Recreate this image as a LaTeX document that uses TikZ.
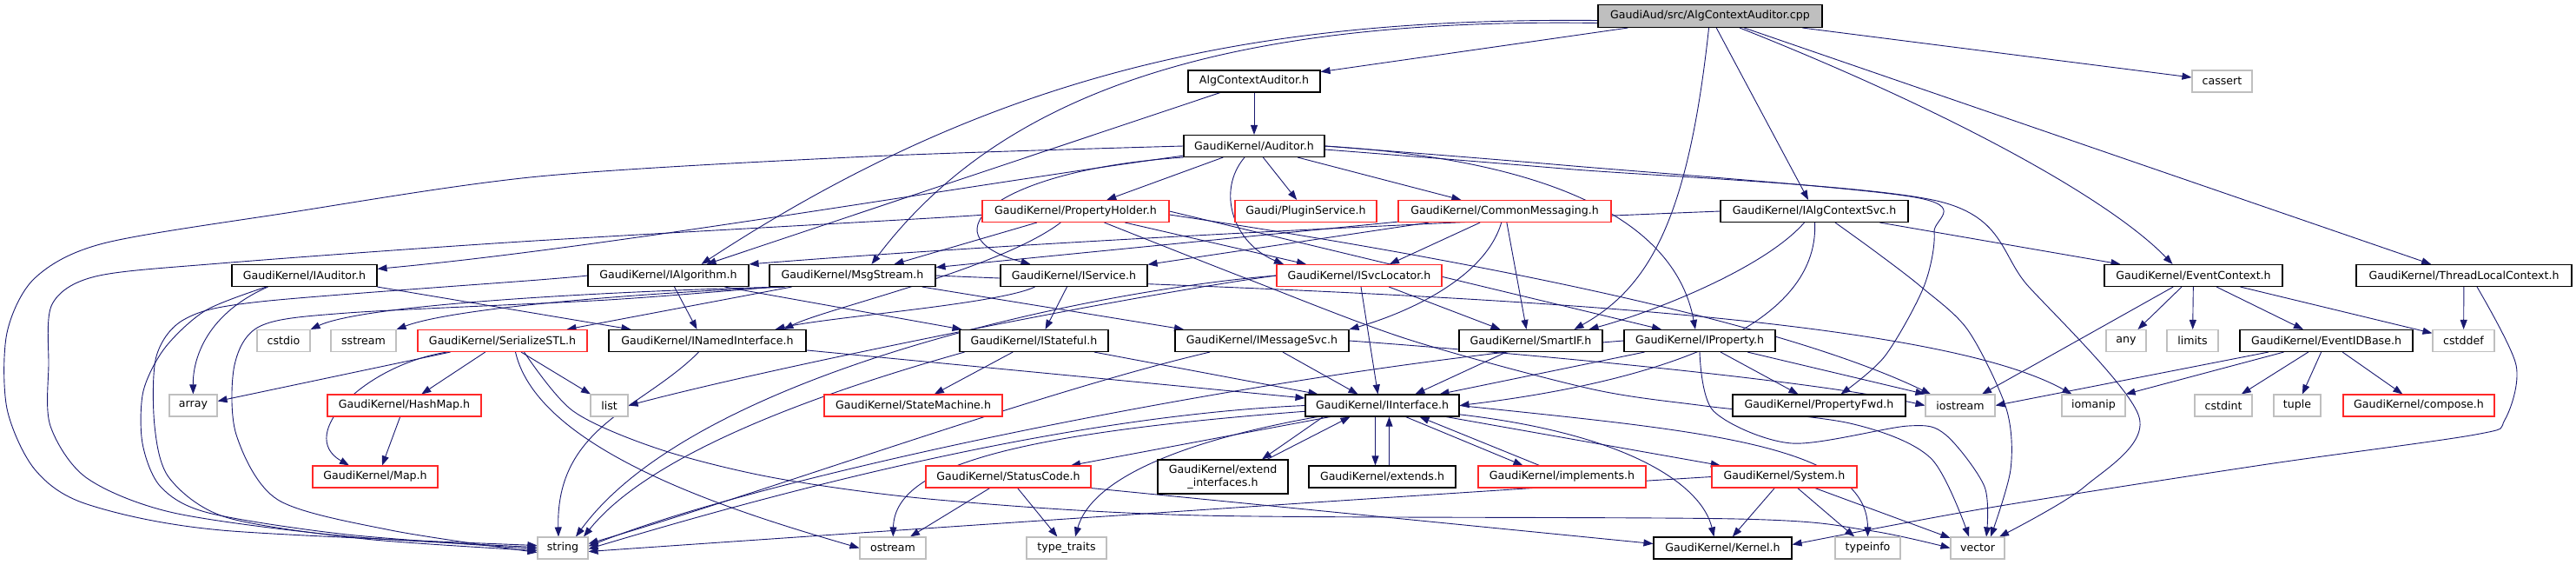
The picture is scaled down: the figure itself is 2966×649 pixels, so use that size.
\documentclass[tikz,border=0pt]{standalone}
\usepackage{fontspec}
\setmainfont{DejaVu Sans}
\usetikzlibrary{arrows.meta,backgrounds}
\definecolor{edgecol}{RGB}{25,25,112}
\definecolor{redbox}{RGB}{255,40,40}
\definecolor{graybox}{RGB}{191,191,191}
\definecolor{topfill}{RGB}{191,191,191}
\tikzset{
  nd/.style={draw=black, fill=white, line width=1.1pt, minimum height=25pt, inner sep=0pt,
             font=\fontsize{12.6}{14.5}\selectfont, text=black},
  rd/.style={nd, draw=redbox},
  gy/.style={nd, draw=graybox},
  ed/.style={draw=edgecol, line width=0.9pt, -{Triangle[length=11pt,width=8pt]}},
}
\begin{document}
\begin{tikzpicture}[x=1pt,y=-1pt]
\useasboundingbox (0,0) rectangle (2966,649);
% ---------- nodes ----------
\node[nd, fill=topfill, minimum width=258pt, minimum height=26pt] (cpp) at (1969,18.5) {GaudiAud/src/AlgContextAuditor.cpp};
\node[nd, minimum width=152pt] (ach) at (1444,93.5) {AlgContextAuditor.h};
\node[gy, minimum width=69pt] (cassert) at (2558.5,93.5) {cassert};
\node[nd, minimum width=162pt] (auditor) at (1444,168) {GaudiKernel/Auditor.h};
\node[rd, minimum width=215pt] (propholder) at (1238.5,243) {GaudiKernel/PropertyHolder.h};
\node[rd, minimum width=163pt] (plugin) at (1503.5,243) {Gaudi/PluginService.h};
\node[rd, minimum width=245pt] (commsg) at (1732.5,243) {GaudiKernel/CommonMessaging.h};
\node[nd, minimum width=216pt] (ialgctx) at (2089,243) {GaudiKernel/IAlgContextSvc.h};
\node[nd, minimum width=167pt] (iauditor) at (350.5,317) {GaudiKernel/IAuditor.h};
\node[nd, minimum width=185pt] (ialgorithm) at (769.5,317) {GaudiKernel/IAlgorithm.h};
\node[nd, minimum width=191pt] (msgstream) at (981.5,317) {GaudiKernel/MsgStream.h};
\node[nd, minimum width=169pt] (iservice) at (1236.5,317) {GaudiKernel/IService.h};
\node[rd, minimum width=190pt] (isvcloc) at (1565,317) {GaudiKernel/ISvcLocator.h};
\node[nd, minimum width=205pt] (evctx) at (2525.5,317) {GaudiKernel/EventContext.h};
\node[nd, minimum width=248pt] (tlctx) at (2837,317) {GaudiKernel/ThreadLocalContext.h};
\node[gy, minimum width=61pt] (cstdio) at (326.5,392) {cstdio};
\node[gy, minimum width=75pt] (sstream) at (418.5,392) {sstream};
\node[rd, minimum width=195pt] (serialize) at (578.5,392) {GaudiKernel/SerializeSTL.h};
\node[nd, minimum width=227pt] (inamed) at (814.5,392) {GaudiKernel/INamedInterface.h};
\node[nd, minimum width=171pt] (istateful) at (1190.5,392) {GaudiKernel/IStateful.h};
\node[nd, minimum width=200pt] (imsgsvc) at (1453,392) {GaudiKernel/IMessageSvc.h};
\node[nd, minimum width=165pt] (smartif) at (1762.5,392) {GaudiKernel/SmartIF.h};
\node[nd, minimum width=174pt] (iproperty) at (1957,392) {GaudiKernel/IProperty.h};
\node[gy, minimum width=46pt] (any) at (2448,392) {any};
\node[gy, minimum width=59pt] (limits) at (2524.5,392) {limits};
\node[nd, minimum width=199pt] (evidbase) at (2678.5,392) {GaudiKernel/EventIDBase.h};
\node[gy, minimum width=71pt] (cstddef) at (2836.5,392) {cstddef};
\node[gy, minimum width=55pt] (array) at (222.5,466.5) {array};
\node[rd, minimum width=177pt] (hashmap) at (465.5,466.5) {GaudiKernel/HashMap.h};
\node[gy, minimum width=43pt] (list) at (701.5,466.5) {list};
\node[rd, minimum width=205pt] (statemachine) at (1051.5,466.5) {GaudiKernel/StateMachine.h};
\node[nd, minimum width=177pt] (iinterface) at (1591.5,466.5) {GaudiKernel/IInterface.h};
\node[nd, minimum width=199pt] (propfwd) at (2094.5,466.5) {GaudiKernel/PropertyFwd.h};
\node[gy, minimum width=80pt] (iostream) at (2257,466.5) {iostream};
\node[gy, minimum width=73pt] (iomanip) at (2410.5,466.5) {iomanip};
\node[gy, minimum width=66pt] (cstdint) at (2560,466.5) {cstdint};
\node[gy, minimum width=54pt] (tuple) at (2645,466.5) {tuple};
\node[rd, minimum width=174pt] (compose) at (2785,466.5) {GaudiKernel/compose.h};
\node[rd, minimum width=144pt] (map) at (432,548.5) {GaudiKernel/Map.h};
\node[rd, minimum width=190pt] (statuscode) at (1161,548.5) {GaudiKernel/StatusCode.h};
\node[nd, minimum width=150pt, minimum height=39pt, align=center] (extif) at (1408,548.5) {GaudiKernel/extend\\\_interfaces.h};
\node[nd, minimum width=169pt] (extends) at (1591.5,548.5) {GaudiKernel/extends.h};
\node[rd, minimum width=193pt] (implements) at (1798.5,548.5) {GaudiKernel/implements.h};
\node[rd, minimum width=167pt] (system) at (2054.5,548.5) {GaudiKernel/System.h};
\node[gy, minimum width=58pt] (string) at (648,630.5) {string};
\node[gy, minimum width=76pt] (ostream) at (1028,630.5) {ostream};
\node[gy, minimum width=92pt] (typetraits) at (1228,630.5) {type\_traits};
\node[nd, minimum width=159pt] (kernel) at (1983.5,630.5) {GaudiKernel/Kernel.h};
\node[gy, minimum width=75pt] (typeinfo) at (2150.5,630.5) {typeinfo};
\node[gy, minimum width=62pt] (vector) at (2277,630.5) {vector};
% ---------- edges ----------
\begin{scope}[on background layer]
% cpp
\draw[ed] (cpp) -- (ach);
\draw[ed] (cpp) -- (cassert);
\draw[ed] (cpp) -- (ialgctx);
\draw[ed] (cpp) .. controls (2250,130) and (2430,230) .. ([xshift=-24pt]evctx.north);
\draw[ed] (cpp) -- (tlctx);
\draw[ed] ([yshift=-5pt]cpp.west) .. controls (1450,20) and (1150,80) .. ([xshift=38pt]ialgorithm.north);
\draw[ed] ([yshift=-8pt]cpp.west) .. controls (1400,20) and (1150,110) .. ([xshift=22pt]msgstream.north);
\draw[ed] (cpp) .. controls (1944,250) and (1900,330) .. ([xshift=50pt]smartif.north);
% AlgContextAuditor.h
\draw[ed] (ach) -- (auditor);
\draw[ed] (ach) -- ([xshift=44pt]ialgorithm.north);
% Auditor.h
\draw[ed] plot[smooth] coordinates {(auditor.west) (1000,180) (620,203) (330,245) (119,280) (40,320) (8,383) (8,470) (40,540) (100,580) (255,610) ([yshift=3pt]string.west)};
\draw[ed] (auditor) .. controls (1100,215) and (700,285) .. (iauditor);
\draw[ed] (auditor.south west) .. controls (1150,195) and (1060,270) .. ([xshift=-50pt]iservice.north);
\draw[ed] (auditor) -- (propholder);
\draw[ed] (auditor) -- (plugin);
\draw[ed] (auditor) .. controls (1400,220) and (1420,280) .. ([xshift=-87pt]isvcloc.north);
\draw[ed] (auditor) -- (commsg);
\draw[ed] (auditor.east) .. controls (1800,185) and (1930,260) .. ([xshift=-5pt]iproperty.north);
\draw[ed] plot[smooth] coordinates {(auditor.east) (1800,190) (2205,227) (2227,267) (2215,330) (2170,410) ([xshift=25pt]propfwd.north)};
\draw[ed] plot[smooth] coordinates {([yshift=-4pt]auditor.east) (1800,194) (2234,232) (2336,330) (2463,480) (2400,560) ([xshift=25pt]vector.north)};
% PropertyHolder.h
\draw[ed] plot[smooth] coordinates {(propholder.west) (1120,248) (600,278) (253,303) (110,318) (60,350) (56,420) (58,490) (100,550) (200,590) (400,617) ([yshift=1pt]string.west)};
\draw[ed] (propholder) -- ([xshift=48pt]msgstream.north);
\draw[ed] (propholder) .. controls (1150,310) and (950,355) .. ([xshift=88pt]inamed.north);
\draw[ed] (propholder) -- ([xshift=-61pt]isvcloc.north);
\draw[ed] (propholder.east) -- ([xshift=-44pt]iproperty.north);
\draw[ed] ([yshift=-4pt]propholder.east) .. controls (1700,300) and (2050,370) .. ([xshift=-34pt]iostream.north);
\draw[ed] plot[smooth] coordinates {([xshift=33pt]propholder.south) (1434,320) (1620,390) (1830,447) (1963,467) (2130,487) (2223,527) ([xshift=-10pt]vector.north)};
% CommonMessaging.h
\draw[ed] (commsg) -- (msgstream);
\draw[ed] (commsg) -- (iservice);
\draw[ed] (commsg) -- ([xshift=35pt]isvcloc.north);
\draw[ed] (commsg) .. controls (1710,320) and (1620,360) .. (imsgsvc.north east);
\draw[ed] (commsg) -- ([xshift=-5pt]smartif.north);
% IAlgContextSvc.h
\draw[ed] (ialgctx.west) .. controls (1500,262) and (1100,285) .. (ialgorithm.north east);
\draw[ed] (ialgctx) -- ([xshift=-84pt]evctx.north);
\draw[ed] (ialgctx) .. controls (2030,310) and (1900,360) .. ([xshift=67pt]smartif.north);
\draw[ed] (ialgctx) .. controls (2095,380) and (1900,440) .. (iinterface.east);
\draw[ed] plot[smooth] coordinates {([xshift=24pt]ialgctx.south) (2160,290) (2212,330) (2266,380) (2310,470) (2315,540) ([xshift=15pt]vector.north)};
% EventContext.h
\draw[ed] (evctx) -- ([xshift=25pt]iostream.north);
\draw[ed] (evctx) -- (any);
\draw[ed] (evctx) -- (limits);
\draw[ed] (evctx) -- (evidbase);
\draw[ed] (evctx) -- (cstddef);
% ThreadLocalContext.h
\draw[ed] (tlctx) -- (cstddef);
\draw[ed] plot[smooth] coordinates {([xshift=15pt]tlctx.south) (2897,420) (2884,483) (2850,500) (2604,535) (2285,585) ([yshift=4pt]kernel.east)};
% IAuditor.h
\draw[ed] (iauditor.south east) -- ([xshift=-88pt]inamed.north);
\draw[ed] ([xshift=-42pt]iauditor.south) .. controls (240,360) and (222,410) .. (array);
\draw[ed] plot[smooth] coordinates {([xshift=-44pt]iauditor.south) (237,357) (190,400) (165,450) (164,510) (185,560) (240,590) (400,615) ([yshift=-1pt]string.west)};
% IAlgorithm.h
\draw[ed] ([xshift=7pt]ialgorithm.south) -- ([xshift=-12pt]inamed.north);
\draw[ed] ([xshift=65pt]ialgorithm.south) -- ([xshift=-83pt]istateful.north);
\draw[ed] plot[smooth] coordinates {(ialgorithm.west) (620,322) (300,347) (213,367) (180,410) (178,490) (195,550) (260,595) (420,620) ([yshift=-3pt]string.west)};
% MsgStream.h
\draw[ed] ([xshift=-80pt]msgstream.south) .. controls (700,335) and (420,350) .. (cstdio.north east);
\draw[ed] ([xshift=-78pt]msgstream.south) .. controls (720,338) and (520,355) .. (sstream.north east);
\draw[ed] ([xshift=-70pt]msgstream.south) -- ([xshift=74pt]serialize.north);
\draw[ed] plot[smooth] coordinates {([xshift=-90pt]msgstream.south) (700,345) (400,360) (300,375) (270,420) (272,500) (320,575) (450,610) ([yshift=-5pt]string.west)};
\draw[ed] (msgstream) -- ([xshift=-90pt]imsgsvc.north);
\draw[ed] (msgstream.east) .. controls (1500,335) and (2200,350) .. ([xshift=-25pt]iomanip.north);
% INamedInterface.h
\draw[ed] ([xshift=-10pt]inamed.south) .. controls (740,470) and (640,490) .. ([xshift=-5pt]string.north);
\draw[ed] (inamed) -- (iinterface);
% IService.h
\draw[ed] ([xshift=-45pt]iservice.south) .. controls (1150,350) and (950,365) .. ([xshift=78pt]inamed.north);
\draw[ed] ([xshift=-8pt]iservice.south) -- ([xshift=13pt]istateful.north);
% ISvcLocator.h
\draw[ed] ([xshift=2pt]isvcloc.south) -- ([xshift=-5pt]iinterface.north);
\draw[ed] (isvcloc) -- ([xshift=-35pt]smartif.north);
\draw[ed] (isvcloc.west) .. controls (1300,340) and (900,420) .. (list.east);
\draw[ed] (isvcloc.west) .. controls (1250,335) and (800,430) .. ([xshift=15pt]string.north);
% IStateful.h
\draw[ed] (istateful) -- ([xshift=-74pt]iinterface.north);
\draw[ed] (istateful) -- (statemachine);
\draw[ed] ([xshift=-80pt]istateful.south) .. controls (950,450) and (750,520) .. ([xshift=24pt]string.north);
% IMessageSvc.h
\draw[ed] ([xshift=24pt]imsgsvc.south) -- ([xshift=-28pt]iinterface.north);
\draw[ed] ([xshift=-60pt]imsgsvc.south) .. controls (1200,450) and (900,560) .. ([yshift=5pt]string.east);
\draw[ed] (imsgsvc.east) .. controls (1800,410) and (2100,440) .. (iostream.west);
% SmartIF.h
\draw[ed] (smartif) -- ([xshift=38pt]iinterface.north);
% IProperty.h
\draw[ed] (iproperty) -- ([xshift=66pt]iinterface.north);
\draw[ed] (iproperty) -- (propfwd);
\draw[ed] (iproperty) -- (iostream.north west);
\draw[ed] (iproperty.west) .. controls (1500,420) and (900,540) .. ([yshift=2pt]string.east);
\draw[ed] plot[smooth] coordinates {(iproperty.south) (1973,473) (2063,510) (2197,490) (2240,500) (2285,560) ([xshift=10pt]vector.north)};
% EventIDBase.h
\draw[ed] (evidbase) -- (iostream.east);
\draw[ed] (evidbase) -- (iomanip.north east);
\draw[ed] (evidbase) -- (cstdint);
\draw[ed] (evidbase) -- (tuple);
\draw[ed] (evidbase) -- (compose);
% SerializeSTL.h
\draw[ed] ([xshift=-60pt]serialize.south) -- ([yshift=5pt]array.east);
\draw[ed] ([xshift=-64pt]serialize.south) .. controls (420,420) and (340,500) .. ([xshift=-30pt]map.north);
\draw[ed] (serialize) -- (hashmap);
\draw[ed] (serialize) -- (list);
\draw[ed] ([xshift=15pt]serialize.south) .. controls (620,520) and (850,590) .. (ostream.west);
\draw[ed] plot[smooth] coordinates {([xshift=25pt]serialize.south) (660,473) (760,517) (893,550) (1080,575) (1383,593) (2000,597) (2150,610) (vector.west)};
% HashMap.h
\draw[ed] (hashmap) -- ([xshift=8pt]map.north);
% IInterface.h
\draw[ed] (iinterface.west) .. controls (1200,480) and (850,580) .. ([yshift=-1pt]string.east);
\draw[ed] (iinterface) .. controls (1150,500) and (1030,540) .. (ostream);
\draw[ed] (iinterface) .. controls (1400,500) and (1260,540) .. ([xshift=10pt]typetraits.north);
\draw[ed] ([xshift=-60pt]iinterface.south) -- ([xshift=72pt]statuscode.north);
\draw[ed] ([xshift=-68pt]iinterface.south) -- ([xshift=45pt]extif.north);
\draw[ed] ([xshift=51pt]extif.north) -- ([xshift=-37pt]iinterface.south);
\draw[ed] ([xshift=-8pt]iinterface.south) -- ([xshift=-8pt]extends.north);
\draw[ed] ([xshift=8pt]extends.north) -- ([xshift=8pt]iinterface.south);
\draw[ed] ([xshift=27pt]iinterface.south) -- ([xshift=-45pt]implements.north);
\draw[ed] ([xshift=-26pt]implements.north) -- ([xshift=43pt]iinterface.south);
\draw[ed] (iinterface) -- (system);
\draw[ed] (iinterface) .. controls (1880,500) and (1960,560) .. ([xshift=-10pt]kernel.north);
\draw[ed] (iinterface.east) .. controls (1950,495) and (2150,510) .. (typeinfo.north);
% StatusCode.h
\draw[ed] (statuscode) -- ([xshift=20pt]ostream.north);
\draw[ed] (statuscode) -- (typetraits);
\draw[ed] (statuscode.south east) -- ([yshift=5pt]kernel.west);
% System.h
\draw[ed] (system) -- (kernel);
\draw[ed] (system) -- (typeinfo);
\draw[ed] (system) -- (vector);
\draw[ed] (system.west) .. controls (1700,565) and (1000,612) .. ([yshift=-4pt]string.east);
\end{scope}
\end{tikzpicture}
\end{document}
